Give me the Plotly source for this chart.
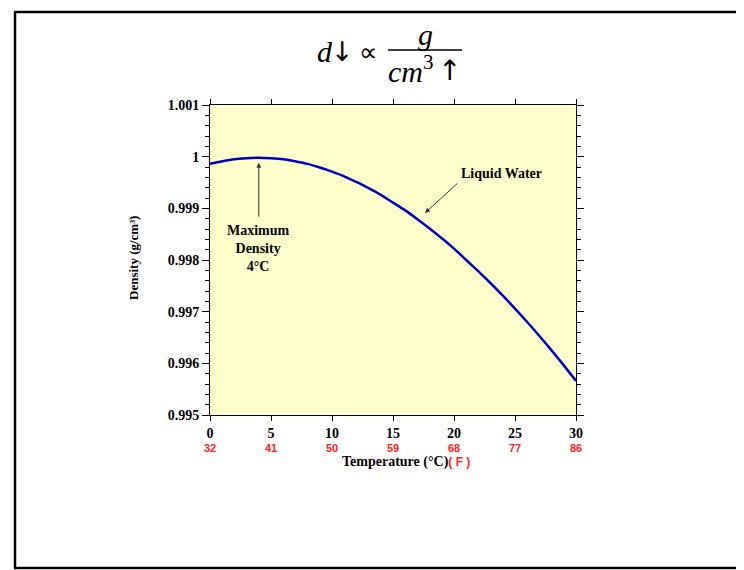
import plotly.graph_objects as go

# Data: density of liquid water (g/cm^3) vs temperature (°C)
temp_c = list(range(0, 31))
density = [0.99986, 0.99991, 0.99995, 0.99997, 0.99998, 0.99997, 0.99995, 0.99991,
           0.99986, 0.99979, 0.99971, 0.99962, 0.99951, 0.99939, 0.99926, 0.99911,
           0.99896, 0.99879, 0.99861, 0.99842, 0.99822, 0.99800, 0.99778, 0.99755,
           0.99731, 0.99706, 0.99680, 0.99653, 0.99625, 0.99596, 0.99566]

x_ticks = [0, 5, 10, 15, 20, 25, 30]
f_labels = ["32", "41", "50", "59", "68", "77", "86"]
y_ticks = [0.995, 0.996, 0.997, 0.998, 0.999, 1.0, 1.001]
y_labels = ["0.995", "0.996", "0.997", "0.998", "0.999", "1", "1.001"]

OFF = 8  # page body margin
W, H = 744 - OFF, 570 - OFF
# plot area in page pixels
PL, PR, PT, PB = 210, 576, 105, 415
L, R, T, B = PL - OFF, PR - OFF, PT - OFF, PB - OFF


def px(xp):
    # page pixel -> paper x
    return (xp - PL) / (PR - PL)


def py(yp):
    # page pixel -> paper y
    return (PB - yp) / (PB - PT)


SERIF = "Liberation Serif"
SANS = "Liberation Sans"
RED = "#FF2020"

fig = go.Figure()
fig.add_trace(go.Scatter(x=temp_c, y=density, mode="lines",
                         line=dict(color="#0000C0", width=2.5, shape="spline"),
                         hoverinfo="skip", showlegend=False))

ann = []
# red Fahrenheit labels
for xv, lab in zip(x_ticks, f_labels):
    ann.append(dict(x=xv, y=0, xref="x", yref="paper", text=lab, showarrow=False,
                    xanchor="center", yanchor="middle", yshift=-33,
                    font=dict(family=SANS, size=11, color=RED, weight="bold")))
# x axis title
ann.append(dict(x=px(406), y=py(462), xref="paper", yref="paper",
                text="Temperature (°C)<span style='color:%s;font-family:%s;font-size:12px'>( F )</span>" % (RED, SANS),
                showarrow=False, xanchor="center", yanchor="middle",
                font=dict(family=SERIF, size=14, color="black", weight="bold")))
# y axis title
ann.append(dict(x=px(133), y=py(258), xref="paper", yref="paper",
                text="Density (g/cm³)", textangle=-90, showarrow=False,
                xanchor="center", yanchor="middle",
                font=dict(family=SERIF, size=13, color="black", weight="bold")))
# Maximum density annotation
ann.append(dict(x=4, y=0.99988, xref="x", yref="y", ax=4, ay=0.99881,
                axref="x", ayref="y", text="", showarrow=True,
                arrowhead=2, arrowsize=1, arrowwidth=1, arrowcolor="#333333"))
ann.append(dict(x=px(258), y=py(248), xref="paper", yref="paper",
                text="Maximum<br>Density<br>4°C", showarrow=False,
                xanchor="center", yanchor="middle",
                font=dict(family=SERIF, size=14, color="black", weight="bold")))
# Liquid water annotation
ann.append(dict(x=17.62, y=0.99891, xref="x", yref="y", ax=20.41, ay=0.99951,
                axref="x", ayref="y", text="", showarrow=True,
                arrowhead=2, arrowsize=1, arrowwidth=1, arrowcolor="#333333"))
ann.append(dict(x=px(501), y=py(173), xref="paper", yref="paper",
                text="Liquid Water", showarrow=False,
                xanchor="center", yanchor="middle",
                font=dict(family=SERIF, size=14, color="black", weight="bold")))


# Formula title pieces
def formula(text, xc, yc, size=30, family=SERIF):
    ann.append(dict(x=px(xc), y=py(yc), xref="paper", yref="paper", text=text,
                    showarrow=False, xanchor="center", yanchor="middle",
                    font=dict(family=family, size=size, color="black")))


formula("<i>d</i>", 325, 51)
formula("↓", 342, 51, size=27, family="DejaVu Sans")
formula("∝", 368, 52, size=26)
formula("<i>g</i>", 425, 34)
formula("<i>cm</i><sup>3</sup>", 410, 69)
formula("↑", 449, 70, size=28, family="DejaVu Sans")

shapes = [
    dict(type="line", xref="paper", yref="paper", x0=px(388), x1=px(462), y0=py(50), y1=py(50),
         line=dict(color="black", width=1.5)),
    # outer frame (left, top, bottom)
    dict(type="line", xref="paper", yref="paper", x0=px(15), x1=px(15), y0=py(12), y1=py(568),
         line=dict(color="black", width=2.5)),
    dict(type="line", xref="paper", yref="paper", x0=px(14), x1=px(760), y0=py(12), y1=py(12),
         line=dict(color="black", width=2.5)),
    dict(type="line", xref="paper", yref="paper", x0=px(14), x1=px(760), y0=py(568), y1=py(568),
         line=dict(color="black", width=2.5)),
]

fig.update_layout(
    width=W, height=H,
    margin=dict(l=L, r=W - R, t=T, b=H - B, pad=0),
    paper_bgcolor="white", plot_bgcolor="#FFFFCC",
    showlegend=False,
    annotations=ann, shapes=shapes,
    xaxis=dict(range=[0, 30], tickvals=x_ticks, ticktext=[str(v) for v in x_ticks],
               ticks="outside", ticklen=5, tickwidth=1, tickcolor="black",
               showline=True, linecolor="black", linewidth=1, mirror="ticks",
               showgrid=False, zeroline=False,
               tickfont=dict(family=SERIF, size=14, color="black", weight="bold")),
    yaxis=dict(range=[0.995, 1.001], tickvals=y_ticks, ticktext=y_labels,
               ticks="outside", ticklen=7, tickwidth=1, tickcolor="black",
               showline=True, linecolor="black", linewidth=1, mirror="ticks",
               showgrid=False, zeroline=False,
               minor=dict(dtick=0.0002, ticks="outside", ticklen=4, tickcolor="black", showgrid=False),
               tickfont=dict(family=SERIF, size=14, color="black", weight="bold")),
)

fig.write_html("out.html")
